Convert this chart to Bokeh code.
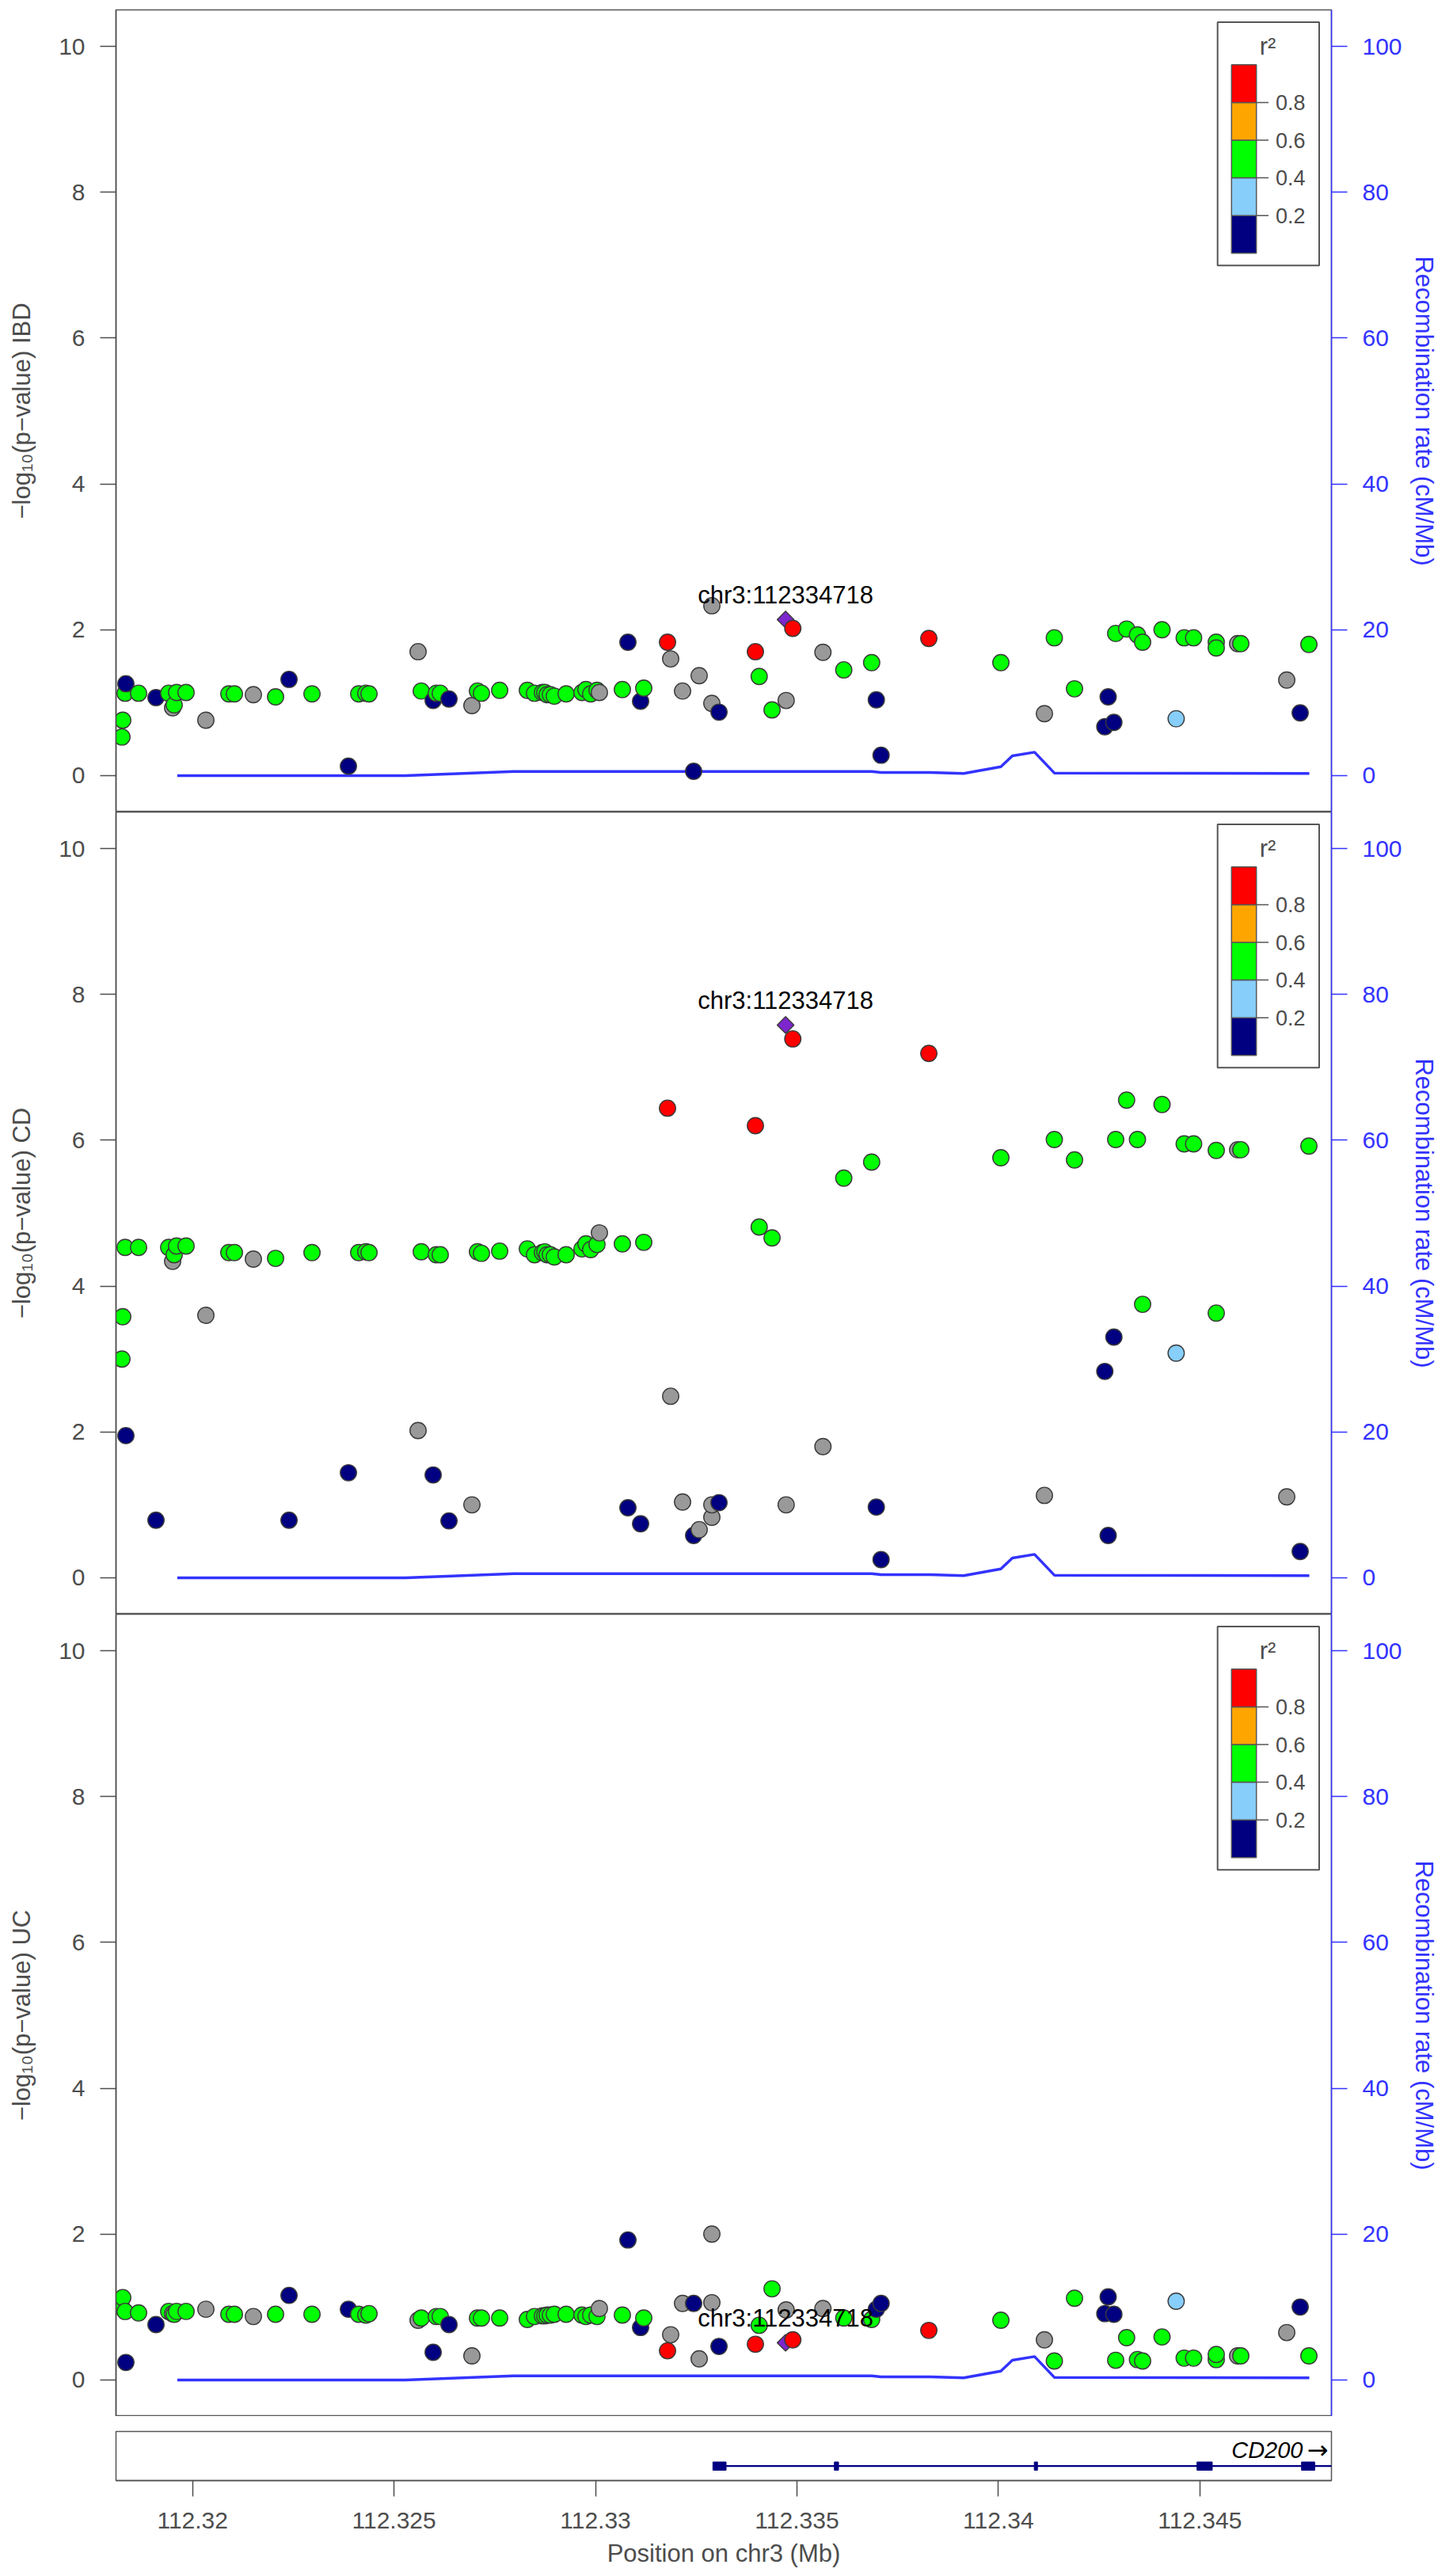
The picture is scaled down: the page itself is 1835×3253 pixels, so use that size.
import numpy as np
from bokeh.plotting import figure
from bokeh.models import Range1d, LinearAxis, FixedTicker
from bokeh.layouts import column
from bokeh.embed import file_html
from bokeh.resources import INLINE
from bokeh.core.properties import value

# ---------------- data ----------------
# SNP position (Mb), r2 class (-1 = no LD info, 0..4 = r2 bins, 9 = index SNP)
snp_pos = [112.318247, 112.318267, 112.318326, 112.318345, 112.318660, 112.319092, 112.319407,
           112.319505, 112.319544, 112.319603, 112.319839, 112.320330, 112.320900, 112.321038,
           112.321509, 112.322060, 112.322394, 112.322964, 112.323868, 112.324123, 112.324300,
           112.324379, 112.325597, 112.325676, 112.325971, 112.326049, 112.326147, 112.326364,
           112.326933, 112.327071, 112.327170, 112.327622, 112.328309, 112.328486, 112.328683,
           112.328742, 112.328801, 112.328880, 112.328978, 112.329272, 112.329665, 112.329763,
           112.329881, 112.330038, 112.330097, 112.330667, 112.330805, 112.331119, 112.331198,
           112.331788, 112.331866, 112.332161, 112.332436, 112.332573, 112.332888, 112.332888,
           112.333065, 112.333969, 112.334063, 112.334382, 112.334718, 112.334732, 112.334897,
           112.335645, 112.336162, 112.336854, 112.336970, 112.337088, 112.338273, 112.340061,
           112.341142, 112.341388, 112.341889, 112.342641, 112.342724, 112.342866, 112.342911,
           112.343182, 112.343451, 112.343579, 112.344061, 112.344412, 112.344611, 112.344845,
           112.345407, 112.345407, 112.345937, 112.346016, 112.347156, 112.347490, 112.347706]
snp_r2_class = [2, 2, 2, 0, 2, 0, 2,
                -1, 2, 2, 2, -1, 2, 2,
                -1, 2, 0, 2, 0, 2, 2,
                2, -1, 2, 0, 2, 2, 0,
                -1, 2, 2, 2, 2, 2, 2,
                2, 2, 2, 2, 2, 2, 2,
                2, 2, -1, 2, 0, 0, 2,
                4, -1, -1, 0, -1, -1, -1,
                0, 4, 2, 2, 9, -1, 4,
                -1, 2, 2, 0, 0, 4, 2,
                -1, 2, 2, 0, 0, 0, 2,
                2, 2, 2, 2, 1, 2, 2,
                2, 2, -1, 2, -1, 0, 2]
logp_ibd = [0.53, 0.76, 1.13, 1.26, 1.13, 1.07, 1.13,
            0.93, 0.97, 1.14, 1.14, 0.76, 1.12, 1.12,
            1.11, 1.08, 1.32, 1.12, 0.13, 1.12, 1.13,
            1.12, 1.70, 1.16, 1.03, 1.13, 1.13, 1.05,
            0.96, 1.16, 1.13, 1.17, 1.17, 1.13, 1.14,
            1.14, 1.11, 1.11, 1.09, 1.12, 1.14, 1.18,
            1.12, 1.17, 1.14, 1.18, 1.83, 1.02, 1.20,
            1.83, 1.60, 1.16, 0.06, 1.37, 2.33, 0.99,
            0.87, 1.70, 1.36, 0.90, 2.14, 1.03, 2.02,
            1.69, 1.45, 1.55, 1.04, 0.28, 1.88, 1.55,
            0.85, 1.89, 1.19, 0.67, 1.08, 0.73, 1.95,
            2.01, 1.93, 1.83, 2.00, 0.78, 1.89, 1.89,
            1.83, 1.75, 1.81, 1.81, 1.31, 0.86, 1.80]
logp_cd = [3.00, 3.58, 4.53, 1.95, 4.53, 0.79, 4.53,
           4.34, 4.43, 4.55, 4.55, 3.60, 4.46, 4.46,
           4.37, 4.38, 0.79, 4.46, 1.44, 4.46, 4.47,
           4.46, 2.02, 4.47, 1.41, 4.43, 4.43, 0.78,
           1.00, 4.47, 4.45, 4.48, 4.51, 4.43, 4.46,
           4.47, 4.43, 4.43, 4.40, 4.43, 4.51, 4.58,
           4.50, 4.57, 4.73, 4.58, 0.96, 0.74, 4.60,
           6.44, 2.49, 1.04, 0.58, 0.66, 0.83, 1.00,
           1.03, 6.20, 4.81, 4.66, 7.58, 1.00, 7.39,
           1.80, 5.48, 5.70, 0.97, 0.25, 7.19, 5.76,
           1.13, 6.01, 5.73, 2.83, 0.58, 3.30, 6.01,
           6.55, 6.01, 3.75, 6.49, 3.08, 5.95, 5.95,
           5.86, 3.63, 5.87, 5.87, 1.11, 0.36, 5.92]
logp_uc = [0.99, 1.13, 0.94, 0.24, 0.92, 0.76, 0.94,
           0.91, 0.90, 0.94, 0.94, 0.97, 0.90, 0.90,
           0.87, 0.90, 1.16, 0.90, 0.97, 0.90, 0.89,
           0.91, 0.82, 0.85, 0.38, 0.87, 0.87, 0.76,
           0.33, 0.85, 0.85, 0.85, 0.83, 0.87, 0.88,
           0.88, 0.89, 0.89, 0.90, 0.90, 0.89, 0.87,
           0.89, 0.87, 0.98, 0.89, 1.92, 0.72, 0.85,
           0.40, 0.62, 1.05, 1.05, 0.29, 2.00, 1.06,
           0.46, 0.49, 0.75, 1.25, 0.51, 0.96, 0.55,
           0.98, 0.85, 0.83, 0.97, 1.05, 0.68, 0.82,
           0.55, 0.26, 1.12, 0.91, 1.14, 0.90, 0.27,
           0.58, 0.28, 0.26, 0.59, 1.08, 0.30, 0.30,
           0.28, 0.35, 0.33, 0.33, 0.65, 1.00, 0.33]
panel_traits = ["IBD", "CD", "UC"]
lead_label = "chr3:112334718"

recomb_pos = [112.319620, 112.325275, 112.327975, 112.336854, 112.337088, 112.338312,
              112.339137, 112.340061, 112.340346, 112.340897, 112.341388, 112.347716]
recomb_rate = [0.0, 0.0, 0.57, 0.57, 0.43, 0.43, 0.29, 1.21, 2.71, 3.21, 0.36, 0.29]

gene_name = "CD200"
gene_start = 112.332914
gene_end = 112.348600
exon_starts = [112.332914, 112.335929, 112.340890, 112.344929, 112.347523]
exon_ends = [112.333242, 112.336033, 112.340970, 112.345308, 112.347850]

x_ticks = [112.32, 112.325, 112.33, 112.335, 112.34, 112.345]
x_tick_labels = ["112.32", "112.325", "112.33", "112.335", "112.34", "112.345"]
y_ticks = [0, 2, 4, 6, 8, 10]
recomb_ticks = [0, 20, 40, 60, 80, 100]
r2_breaks = [0.2, 0.4, 0.6, 0.8]
r2_colors = ["#000080", "#87CEFA", "#00FF00", "#FFA500", "#FF0000"]
no_ld_color = "#999999"
lead_color = "#7D26CD"

# ---------------- style / layout ----------------
FONT = "Liberation Sans"
TXT = "#4D4D4D"
FRAME = "#555555"
BLUE = "#3333FF"
EDGE = "#3A3A3A"

X_START, X_END = 112.3180996, 112.348266
Y_START, Y_END = -0.5, 10.5
FIG_W = 1827
BORDER_L, BORDER_R = 146, 146
FRAME_W = FIG_W - BORDER_L - BORDER_R
PANEL_H = 1013
TOP_BORDER = 12
PX_PER_MB = FRAME_W / (X_END - X_START)
PX_PER_Y = PANEL_H / (Y_END - Y_START)

xr = Range1d(X_START, X_END)


def style_axis(ax, color, label_size="31px"):
    ax.major_tick_out = 20
    ax.major_tick_in = 0
    ax.minor_tick_out = 0
    ax.minor_tick_in = 0
    ax.major_tick_line_color = color
    ax.major_tick_line_width = 1.5
    ax.axis_line_color = color
    ax.axis_line_width = 1.5
    ax.major_label_text_color = color
    ax.major_label_text_font = FONT
    ax.major_label_text_font_size = "30px"
    ax.major_label_standoff = 19
    ax.axis_label_text_color = color
    ax.axis_label_text_font = FONT
    ax.axis_label_text_font_size = label_size
    ax.axis_label_text_font_style = "normal"


def add_legend(p):
    def xd(off):
        return X_END - off / PX_PER_MB

    def yd(off):
        return Y_END - off / PX_PER_Y

    p.quad(left=[xd(143.8)], right=[xd(15.5)], top=[yd(15.6)], bottom=[yd(322.7)],
           fill_color="white", line_color=FRAME, line_width=2)
    seg_top, seg_h = 69.3, 47.6
    n = len(r2_colors)
    tops = [yd(seg_top + (n - 1 - i) * seg_h) for i in range(n)]
    bottoms = [yd(seg_top + (n - i) * seg_h) for i in range(n)]
    p.quad(left=xd(126.2), right=xd(94.8), top=tops, bottom=bottoms,
           fill_color=r2_colors, line_color=FRAME, line_width=1.5)
    ys = tops[:len(r2_breaks)]
    p.segment(x0=xd(94.8), x1=xd(79.5), y0=ys, y1=ys, line_color=FRAME, line_width=1.5)
    p.text(x=xd(70.5), y=ys, text=[f"{b:.1f}" for b in r2_breaks], text_baseline="middle",
           text_align="left", text_font=value(FONT), text_font_size="27px", text_color=TXT)
    p.text(x=[xd(80.5)], y=[yd(46.3)], text=["r\u00b2"], text_baseline="middle",
           text_align="center", text_font=value(FONT), text_font_size="31px", text_color=TXT)


def make_panel(vals, trait, top_border):
    p = figure(width=FIG_W, height=PANEL_H + top_border, x_range=xr,
               y_range=Range1d(Y_START, Y_END), x_axis_location=None,
               output_backend="svg", toolbar_location=None,
               min_border_left=BORDER_L, min_border_right=BORDER_R,
               min_border_top=top_border, min_border_bottom=0)
    p.extra_y_ranges = {"recomb": Range1d(Y_START * 10, Y_END * 10)}
    p.grid.visible = False
    p.outline_line_color = FRAME
    p.outline_line_width = 1.5
    p.background_fill_color = "white"
    p.border_fill_color = "white"

    la = p.yaxis[0]
    la.ticker = FixedTicker(ticks=y_ticks)
    la.axis_label = "\u2212log\u2081\u2080(p\u2212value) " + trait
    style_axis(la, TXT)
    la.axis_label_standoff = 26

    ra = LinearAxis(y_range_name="recomb", ticker=FixedTicker(ticks=recomb_ticks),
                    axis_label="Recombination rate (cM/Mb)")
    style_axis(ra, BLUE)
    ra.axis_label_standoff = 7
    p.add_layout(ra, "right")

    p.line(recomb_pos, recomb_rate, y_range_name="recomb", line_color=BLUE, line_width=3.5)

    xs, ys, cols = [], [], []
    lead_x = lead_y = None
    for x, c, v in zip(snp_pos, snp_r2_class, vals):
        if c == 9:
            lead_x, lead_y = x, v
            continue
        xs.append(x)
        ys.append(v)
        cols.append(no_ld_color if c < 0 else r2_colors[c])
    p.scatter([lead_x], [lead_y], marker="square", angle=np.pi / 4, size=15,
              fill_color=lead_color, line_color=EDGE, line_width=1.4)
    p.scatter(xs, ys, size=20.5, fill_color=cols, line_color=EDGE, line_width=1.4)
    p.text(x=[lead_x], y=[lead_y], text=[lead_label], text_align="center",
           text_baseline="middle", y_offset=-31, text_font=value(FONT),
           text_font_size="31px", text_color="black")
    add_legend(p)
    return p


panels = []
for i, (vals, trait) in enumerate(zip([logp_ibd, logp_cd, logp_uc], panel_traits)):
    panels.append(make_panel(vals, trait, TOP_BORDER if i == 0 else 0))

# gene track
g = figure(width=FIG_W, height=201, x_range=xr, y_range=Range1d(0, 1),
           y_axis_location=None, output_backend="svg", toolbar_location=None,
           min_border_left=BORDER_L, min_border_right=BORDER_R,
           min_border_top=19, min_border_bottom=120)
g.grid.visible = False
g.outline_line_color = FRAME
g.outline_line_width = 1.5
GENE_Y = 0.295
g.segment(x0=[gene_start], x1=[gene_end], y0=[GENE_Y], y1=[GENE_Y], line_color="#000080", line_width=2.3)
g.quad(left=exon_starts, right=exon_ends, bottom=GENE_Y - 0.084, top=GENE_Y + 0.084,
       fill_color="#000080", line_color="#000080", line_width=1)
g.text(x=[X_END], y=[0.629], text=[gene_name], text_align="right", x_offset=-36,
       text_baseline="middle", text_font=value(FONT), text_font_size="29px",
       text_font_style="italic", text_color="black")
g.text(x=[X_END], y=[0.629], text=["\u2192"], text_align="right", x_offset=-4,
       text_baseline="middle", text_font=value("DejaVu Sans"), text_font_size="32px",
       text_color="black")
xa = g.xaxis[0]
xa.ticker = FixedTicker(ticks=x_ticks)
xa.major_label_overrides = {t: l for t, l in zip(x_ticks, x_tick_labels)}
xa.axis_label = "Position on chr3 (Mb)"
style_axis(xa, TXT)
xa.major_label_standoff = 20
xa.axis_label_standoff = 11

layout = column(*panels, g, spacing=0)
open("out.html", "w").write(file_html(layout, INLINE))
